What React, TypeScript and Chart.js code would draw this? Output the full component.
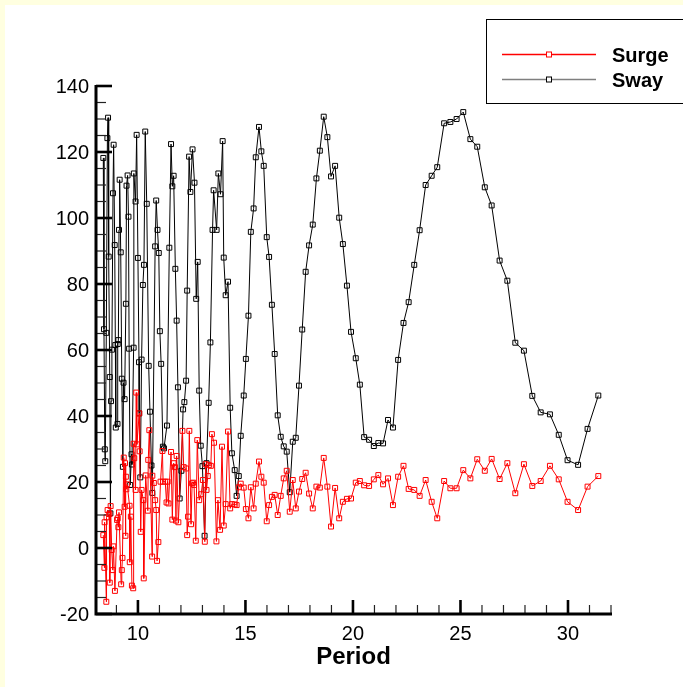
import React, { useEffect, useRef } from "react";
import { Chart, registerables } from "chart.js";

Chart.register(...registerables);

// ---- axis settings / tick labels ----
const X_MIN = 8.05;
const X_MAX = 32;
const Y_MIN = -20;
const Y_MAX = 140;
const xMajorTicks = [10, 15, 20, 25, 30];
const xMinorTicks = [9, 11, 12, 13, 14, 16, 17, 18, 19, 21, 22, 23, 24, 26, 27, 28, 29, 31, 32];
const yMajorTicks = [-20, 0, 20, 40, 60, 80, 100, 120, 140];
const yMinorTicks = [-15, -10, -5, 5, 10, 15, 25, 30, 35, 45, 50, 55, 65, 70, 75, 85, 90, 95, 105, 110, 115, 125, 130, 135];
const xTitle = "Period";
const seriesNames = ["Surge", "Sway"];

// ---- dense region (short periods) ----
const swayDenseT = [8.39, 8.42, 8.46, 8.48, 8.53, 8.58, 8.61, 8.64, 8.69, 8.72, 8.75, 8.79, 8.84, 8.87, 8.92, 8.95, 8.97, 9.05, 9.06, 9.09, 9.12, 9.15, 9.2, 9.25, 9.3, 9.33, 9.38, 9.44, 9.47, 9.52, 9.56, 9.59, 9.64, 9.7, 9.72, 9.8, 9.81, 9.89, 9.94, 10.0, 10.05, 10.06, 10.11, 10.17, 10.23, 10.28, 10.34, 10.41, 10.5, 10.56, 10.63, 10.67, 10.8, 10.85, 10.91, 10.97, 11.02, 11.08, 11.16, 11.21, 11.35, 11.46, 11.54, 11.6, 11.66, 11.74, 11.8, 11.86, 11.94, 12.02, 12.1, 12.16, 12.24, 12.29, 12.38, 12.44, 12.54, 12.63, 12.71, 12.78, 12.85, 12.92, 13.0, 13.1, 13.19, 13.29, 13.37, 13.47, 13.52, 13.66, 13.74, 13.84, 13.94];
const swayDenseV = [118.2, 66.3, 29.9, 26.3, 65.2, 124.2, 130.4, 88.3, 51.8, 10.5, 44.5, 60.1, 107.5, 122.2, 91.8, 61.5, 36.5, 37.6, 61.8, 63.0, 96.4, 111.6, 89.6, 51.3, 24.6, 50.1, 45.1, 74.0, 109.8, 112.9, 100.4, 60.4, 19.1, 28.4, 25.3, 60.7, 113.5, 105.0, 125.2, 87.9, 56.3, 40.8, 21.4, 57.1, 79.7, 85.8, 126.2, 104.3, 55.2, 41.3, 25.0, 16.7, 91.4, 105.3, 96.4, 89.4, 65.7, 55.8, 30.7, 30.2, 37.1, 91.0, 122.4, 109.6, 112.8, 84.6, 68.9, 48.7, 15.0, 23.4, 42.0, 44.2, 50.7, 78.0, 118.6, 107.9, 120.8, 110.7, 75.5, 86.7, 47.7, 31.0, 24.8, 3.7, 25.7, 44.0, 62.3, 96.4, 108.4, 96.4, 113.5, 107.2, 123.3];

const surgeDenseT = [8.39, 8.44, 8.45, 8.53, 8.54, 8.59, 8.67, 8.69, 8.73, 8.78, 8.83, 8.86, 8.93, 9.03, 9.06, 9.09, 9.12, 9.22, 9.25, 9.28, 9.34, 9.38, 9.4, 9.42, 9.44, 9.46, 9.5, 9.61, 9.62, 9.67, 9.72, 9.78, 9.8, 9.83, 9.89, 9.92, 9.95, 10.06, 10.08, 10.13, 10.17, 10.25, 10.27, 10.36, 10.46, 10.48, 10.53, 10.66, 10.67, 10.74, 10.8, 10.85, 10.89, 10.95, 11.05, 11.14, 11.17, 11.27, 11.33, 11.38, 11.42, 11.54, 11.6, 11.66, 11.72, 11.77, 11.8, 11.88, 12.07, 12.13, 12.24, 12.29, 12.33, 12.39, 12.47, 12.52, 12.57, 12.61, 12.69, 12.76, 12.85, 12.94, 13.02, 13.11, 13.15, 13.19, 13.25, 13.3, 13.39, 13.44, 13.54, 13.65, 13.72, 13.82, 13.91];
const surgeDenseV = [3.9, -6, 7.8, -16.3, 9.3, 11.5, 10.3, -10.5, 12.7, -0.6, -6.7, 0.5, -13, 8.5, 9, 6.3, 10.8, -11, -6.7, -3, 27.4, 12.5, 25.7, 3.7, 21.6, 17.8, 19.3, 12.8, -4.3, 9.5, -11.4, -12.2, 31.6, 27.2, 17.6, 47.1, 31.4, 40.8, 29.3, 4.9, 17.6, 14.5, -9.2, 22, 11.3, 26.7, 35.7, -2.6, 21.9, 19.7, 14.5, 11.5, -3.9, 1.8, 20.1, 29.4, 20.1, 20.1, 13.8, 20.1, 13.5, 29.1, 8.6, 25.7, 24.5, 8.3, 27.9, 7.8, 35.5, 24.5, 24.1, 3.9, 9.5, 35.5, 7.2, 19.6, 19.8, 19.1, 2.2, 32.7, 14.5, 16.3, 20.6, 1.9, 25.4, 17.6, 21.8, 25.1, 24.9, 34.5, 31.9, 2, 14.5, 5.5, 30.7];

// ---- sparse region (long periods), shared periods ----
const sparseT = [13.99, 14.08, 14.19, 14.29, 14.37, 14.5, 14.59, 14.69, 14.78, 14.92, 15.02, 15.14, 15.25, 15.38, 15.48, 15.63, 15.74, 15.85, 15.99, 16.1, 16.23, 16.36, 16.5, 16.64, 16.78, 16.92, 17.06, 17.2, 17.34, 17.49, 17.64, 17.8, 17.96, 18.13, 18.3, 18.46, 18.64, 18.81, 18.98, 19.17, 19.36, 19.53, 19.72, 19.91, 20.13, 20.32, 20.52, 20.75, 20.97, 21.18, 21.4, 21.63, 21.86, 22.1, 22.35, 22.59, 22.85, 23.1, 23.38, 23.66, 23.92, 24.24, 24.53, 24.82, 25.13, 25.46, 25.78, 26.13, 26.45, 26.82, 27.18, 27.55, 27.95, 28.34, 28.73, 29.16, 29.57, 29.98, 30.47, 30.91, 31.41];
const swaySparseV = [88, 76.6, 80.7, 42.5, 28.7, 23.6, 15.8, 21.8, 34, 46.2, 57.3, 70.4, 95.8, 102.9, 118.4, 127.6, 120.2, 115.8, 94.2, 88.2, 73.7, 58.8, 40.2, 33.7, 30.8, 29.2, 16.9, 32.2, 33.4, 49.2, 66.2, 83.7, 91.7, 98, 112, 120.4, 130.7, 124.5, 112.6, 115.8, 100.1, 92.1, 79.5, 65.5, 57.5, 49.5, 33.6, 32.8, 30.9, 31.8, 31.7, 38.8, 36.5, 57, 68.2, 74.5, 85.8, 96.3, 110, 112.8, 115.4, 128.7, 129.1, 130, 132.1, 123.9, 121.6, 109.3, 103.8, 87.1, 81, 62.2, 59.8, 46.1, 41.1, 40.5, 34.3, 26.6, 25.2, 36.1, 46.2];
const surgeSparseV = [6.8, 13.3, 35.3, 12, 13.3, 13.2, 13, 18.4, 19.5, 18.3, 11.8, 9, 18.4, 12, 19.5, 26.2, 21.6, 19.8, 8.1, 13, 15.5, 16.1, 10, 15.8, 21.1, 23.4, 11, 20.6, 12, 17.1, 20.9, 22.8, 16.5, 12, 18.6, 18.3, 27.3, 18.6, 6.5, 18.2, 9, 14, 14.9, 15, 19.8, 20.3, 19, 18.8, 20.8, 22.1, 19.3, 21.1, 13, 21.6, 24.9, 17.9, 17.6, 15.8, 20.6, 14, 9, 20.3, 18.1, 18.1, 23.6, 21.1, 26.9, 23.4, 27, 20.9, 25.7, 16.6, 25.4, 18.8, 20.3, 24.9, 20.8, 14, 11.5, 18.6, 21.8];

const FONT = '"Liberation Sans", Arial, Helvetica, sans-serif';

function toPoints(ts: number[], vs: number[]) {
  return ts.map((t, i) => ({ x: t, y: vs[i] }));
}

const axesPlugin = {
  id: "tecplotAxes",
  afterDatasetsDraw(chart: any) {
    const ctx = chart.ctx as CanvasRenderingContext2D;
    const xs = chart.scales.x;
    const ys = chart.scales.y;
    const { left, right, top, bottom } = chart.chartArea;
    ctx.save();
    ctx.strokeStyle = "#000";
    ctx.lineCap = "butt";

    // minor ticks
    ctx.lineWidth = 1.2;
    ctx.strokeStyle = "#222";
    for (const v of xMinorTicks) {
      const px = xs.getPixelForValue(v);
      ctx.beginPath();
      ctx.moveTo(px, bottom);
      ctx.lineTo(px, bottom - 9);
      ctx.stroke();
    }
    for (const v of yMinorTicks) {
      const py = ys.getPixelForValue(v);
      ctx.beginPath();
      ctx.moveTo(left, py);
      ctx.lineTo(left + 10, py);
      ctx.stroke();
    }
    // major ticks
    ctx.strokeStyle = "#000";
    ctx.lineWidth = 2.6;
    for (const v of xMajorTicks) {
      const px = xs.getPixelForValue(v);
      ctx.beginPath();
      ctx.moveTo(px, bottom);
      ctx.lineTo(px, bottom - 14);
      ctx.stroke();
    }
    for (const v of yMajorTicks) {
      const py = ys.getPixelForValue(v);
      ctx.beginPath();
      ctx.moveTo(left, py);
      ctx.lineTo(left + 16, py);
      ctx.stroke();
    }
    // axis lines
    ctx.lineWidth = 3;
    ctx.beginPath();
    ctx.moveTo(left, top - 1);
    ctx.lineTo(left, bottom + 1.5);
    ctx.moveTo(left - 1.5, bottom);
    ctx.lineTo(right + 1, bottom);
    ctx.stroke();

    // tick labels
    ctx.fillStyle = "#000";
    ctx.font = `20px ${FONT}`;
    ctx.textAlign = "right";
    ctx.textBaseline = "alphabetic";
    for (const v of yMajorTicks) {
      const py = ys.getPixelForValue(v);
      ctx.fillText(String(v), left - 7, py + 7);
    }
    ctx.textAlign = "center";
    for (const v of xMajorTicks) {
      const px = xs.getPixelForValue(v);
      ctx.fillText(String(v), px, bottom + 26);
    }
    // axis title
    ctx.font = `bold 24px ${FONT}`;
    ctx.fillText(xTitle, (left + right) / 2, bottom + 50);
    ctx.restore();
  },
  afterDraw(chart: any) {
    const ctx = chart.ctx as CanvasRenderingContext2D;
    ctx.save();
    // legend box
    ctx.strokeStyle = "#000";
    ctx.lineWidth = 1;
    ctx.fillStyle = "#fff";
    ctx.fillRect(486.5, 19.5, 300, 84);
    ctx.strokeRect(486.5, 19.5, 300, 84);
    const rows = [
      { name: seriesNames[0], line: "#ff0000", mark: "#ff0000", y: 54.5 },
      { name: seriesNames[1], line: "#7f7f7f", mark: "#000000", y: 79.5 },
    ];
    for (const r of rows) {
      ctx.strokeStyle = r.line;
      ctx.lineWidth = 1.3;
      ctx.beginPath();
      ctx.moveTo(502, r.y);
      ctx.lineTo(596, r.y);
      ctx.stroke();
      ctx.fillStyle = "#fff";
      ctx.fillRect(546.5, r.y - 2.5, 5, 5);
      ctx.strokeStyle = r.mark;
      ctx.lineWidth = 1;
      ctx.strokeRect(546.5, r.y - 2.5, 5, 5);
      ctx.fillStyle = "#000";
      ctx.font = `bold 20px ${FONT}`;
      ctx.textAlign = "left";
      ctx.textBaseline = "alphabetic";
      ctx.fillText(r.name, 612, r.y + 7);
    }
    ctx.restore();
  },
};

export default function App() {
  const ref = useRef<HTMLCanvasElement>(null);
  useEffect(() => {
    document.body.style.margin = "0";
    document.body.style.background = "#ffffe0";
    const canvas = ref.current!;
    const chart = new Chart(canvas, {
      type: "line",
      data: {
        datasets: [
          {
            label: seriesNames[0],
            data: [...toPoints(surgeDenseT, surgeDenseV), ...toPoints(sparseT, surgeSparseV)],
            borderColor: "#ff0000",
            borderWidth: 1,
            pointStyle: "rect",
            pointRadius: 3.5,
            pointBorderWidth: 1,
            pointBorderColor: "#ff0000",
            pointBackgroundColor: "rgba(255,255,255,0)",
            tension: 0,
            fill: false,
          },
          {
            label: seriesNames[1],
            data: [...toPoints(swayDenseT, swayDenseV), ...toPoints(sparseT, swaySparseV)],
            borderColor: "#000000",
            borderWidth: 1,
            pointStyle: "rect",
            pointRadius: 3.5,
            pointBorderWidth: 1,
            pointBorderColor: "#000000",
            pointBackgroundColor: "rgba(255,255,255,0)",
            tension: 0,
            fill: false,
          },
        ],
      },
      options: {
        responsive: false,
        animation: false,
        devicePixelRatio: 1,
        parsing: true,
        layout: { padding: { left: 96, right: 72, top: 86, bottom: 73 } },
        scales: {
          x: { type: "linear", min: X_MIN, max: X_MAX, display: false },
          y: { type: "linear", min: Y_MIN, max: Y_MAX, display: false },
        },
        plugins: {
          legend: { display: false },
          tooltip: { enabled: false },
          title: { display: false },
        },
      },
      plugins: [axesPlugin],
    });
    return () => chart.destroy();
  }, []);
  return (
    <div style={{ position: "relative", width: 683, height: 687, background: "#ffffe0", overflow: "hidden" }}>
      <div style={{ position: "absolute", left: 5, top: 5, right: 0, bottom: 0, background: "#ffffff" }} />
      <canvas
        ref={ref}
        width={683}
        height={687}
        style={{ position: "absolute", left: 0, top: 0, width: 683, height: 687 }}
      />
    </div>
  );
}
